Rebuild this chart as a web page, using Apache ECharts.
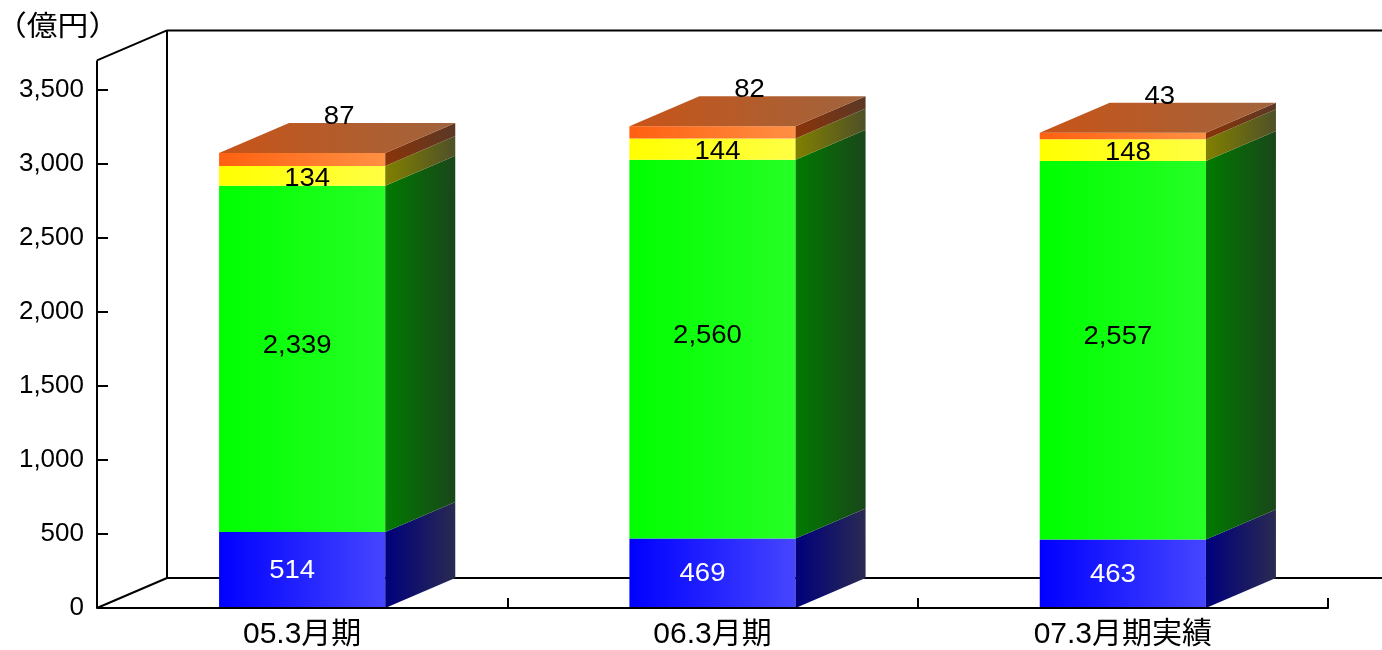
<!DOCTYPE html>
<html>
<head>
<meta charset="utf-8">
<script src="https://cdn.jsdelivr.net/npm/echarts@6/dist/echarts.min.js"></script>
<style>
  html, body { margin: 0; padding: 0; background: #fff; }
  #chart { width: 1382px; height: 650px; }
</style>
</head>
<body>
<div id="chart"></div>
<script>
// Fiscal periods on the category axis
const categories = ['05.3月期', '06.3月期', '07.3月期実績'];

// Stacked segments, bottom to top (億円)
const blueValues   = [514, 469, 463];
const greenValues  = [2339, 2560, 2557];
const yellowValues = [134, 144, 148];
const orangeValues = [87, 82, 43];

// Value axis ticks
const yMin = 0;
const yMax = 3500;
const yInterval = 500;
const wallTop = 3700;   // height of the back and side walls

const unitLabel = '（億円）';

// 3D look: depth offset of the box faces and walls, bar width as part of the band
const DX = 70, DY = -30;
const BAR_RATIO = 0.405;
const TEXT_STRETCH = 1.1;

const NUM_FONT = "'Liberation Sans', Arial, sans-serif";
const CAT_FONT = "'Liberation Sans', 'Noto Sans CJK JP', sans-serif";

function grad(a, b) {
  return new echarts.graphic.LinearGradient(0, 0, 1, 0, [
    { offset: 0, color: a }, { offset: 1, color: b }
  ]);
}
function fmt(v) { return Number(v).toLocaleString('en-US'); }

const layers = [
  { name: 'blue', values: blueValues, front: ['#0000ff', '#4646ff'], side: ['#00007c', '#2a2a52'],
    text: '#ffffff', ldx: -10, ldy: 1 },
  { name: 'green', values: greenValues, front: ['#00ff00', '#26ff26'], side: ['#007a00', '#1a461a'],
    text: '#000000', ldx: -5, ldy: -13 },
  { name: 'yellow', values: yellowValues, front: ['#ffff00', '#ffff44'], side: ['#808000', '#4f5028'],
    text: '#000000', ldx: 5, ldy: 3 },
  { name: 'orange', values: orangeValues, front: ['#ff6010', '#ff9044'], side: ['#8a3408', '#5a3826'],
    text: '#000000', top: ['#c85418', '#a0643e'], onTop: true }
];

function valueText(str, x, y, color) {
  return { type: 'text', z2: 10, x: x, y: y, scaleX: TEXT_STRETCH,
    style: { text: str, x: 0, y: 0, align: 'center', verticalAlign: 'middle',
             fill: color, fontSize: 25, fontFamily: NUM_FONT } };
}

// Running bases for the stack
const bases = categories.map(() => 0);
const barSeries = layers.map((layer, li) => {
  const data = categories.map((c, i) => {
    const base = bases[i];
    const top = base + layer.values[i];
    bases[i] = top;
    return [i, base, top, layer.values[i]];
  });
  return {
    type: 'custom',
    name: layer.name,
    z: 3 + li,
    clip: false,
    data: data,
    renderItem: function (params, api) {
      const i = api.value(0);
      const base = api.value(1), top = api.value(2), val = api.value(3);
      const bw = api.size([1, 0])[0] * BAR_RATIO;
      const cx = api.coord([i, 0])[0];
      const x0 = cx - bw / 2, x1 = cx + bw / 2;
      const yb = api.coord([i, base])[1];
      const yt = api.coord([i, top])[1];
      const children = [
        { type: 'rect', shape: { x: x0, y: yt, width: bw, height: yb - yt },
          style: { fill: grad(layer.front[0], layer.front[1]) } },
        { type: 'polygon', shape: { points: [[x1, yb], [x1, yt], [x1 + DX, yt + DY], [x1 + DX, yb + DY]] },
          style: { fill: grad(layer.side[0], layer.side[1]) } }
      ];
      if (layer.onTop) {
        children.push({ type: 'polygon',
          shape: { points: [[x0, yt], [x1, yt], [x1 + DX, yt + DY], [x0 + DX, yt + DY]] },
          style: { fill: grad(layer.top[0], layer.top[1]) } });
        children.push(valueText(fmt(val), cx + DX / 2 + 2, yt + DY - 6, layer.text));
      } else {
        children.push(valueText(fmt(val), cx + layer.ldx, (yt + yb) / 2 + layer.ldy, layer.text));
      }
      return { type: 'group', children: children };
    }
  };
});

// Back wall, side wall and floor outline
const frameSeries = {
  type: 'custom',
  name: 'frame',
  z: 1,
  clip: false,
  silent: true,
  data: [[0]],
  renderItem: function (params, api) {
    const L = params.coordSys.x;
    const R = params.coordSys.x + params.coordSys.width;
    const y0 = api.coord([0, yMin])[1];
    const yw = api.coord([0, wallTop])[1];
    const ls = { stroke: '#000', lineWidth: 2, fill: null };
    const seg = (a, b) => ({ type: 'line', shape: { x1: a[0], y1: a[1], x2: b[0], y2: b[1] }, style: ls });
    return { type: 'group', children: [
      seg([L, y0], [L, yw]),
      seg([L, yw], [L + DX, yw + DY]),
      seg([L, y0], [L + DX, y0 + DY]),
      seg([L + DX, y0 + DY], [L + DX, yw + DY]),
      seg([L + DX, yw + DY], [R + DX, yw + DY]),
      seg([L + DX, y0 + DY], [R + DX, y0 + DY]),
      seg([R + DX, y0 + DY], [R + DX, yw + DY])
    ] };
  }
};

const chart = echarts.init(document.getElementById('chart'), null, { renderer: 'canvas' });
chart.setOption({
  animation: false,
  backgroundColor: '#ffffff',
  grid: { left: 97, right: 54, top: 90, bottom: 41, containLabel: false },
  graphic: [{
    type: 'text', x: -4, y: 25, z: 10, scaleX: TEXT_STRETCH,
    style: { text: unitLabel, x: 0, y: 0, fontSize: 28, fontFamily: "'Noto Sans CJK JP', sans-serif",
             fill: '#000', verticalAlign: 'middle' }
  }],
  xAxis: {
    type: 'category',
    data: categories,
    axisLine: { show: true, lineStyle: { color: '#000', width: 2 } },
    axisTick: { show: true, inside: true, length: 10, lineStyle: { color: '#000', width: 2 } },
    axisLabel: { color: '#000', fontSize: 30, fontFamily: CAT_FONT, margin: 12 },
    splitLine: { show: false },
    z: 20
  },
  yAxis: {
    type: 'value',
    min: yMin, max: yMax, interval: yInterval,
    axisLine: { show: false },
    axisTick: { show: true, inside: true, length: 11, lineStyle: { color: '#000', width: 2 } },
    axisLabel: { color: '#000', fontSize: 26, fontFamily: NUM_FONT, margin: 13, formatter: fmt },
    splitLine: { show: false }
  },
  series: [frameSeries].concat(barSeries)
});
</script>
</body>
</html>
